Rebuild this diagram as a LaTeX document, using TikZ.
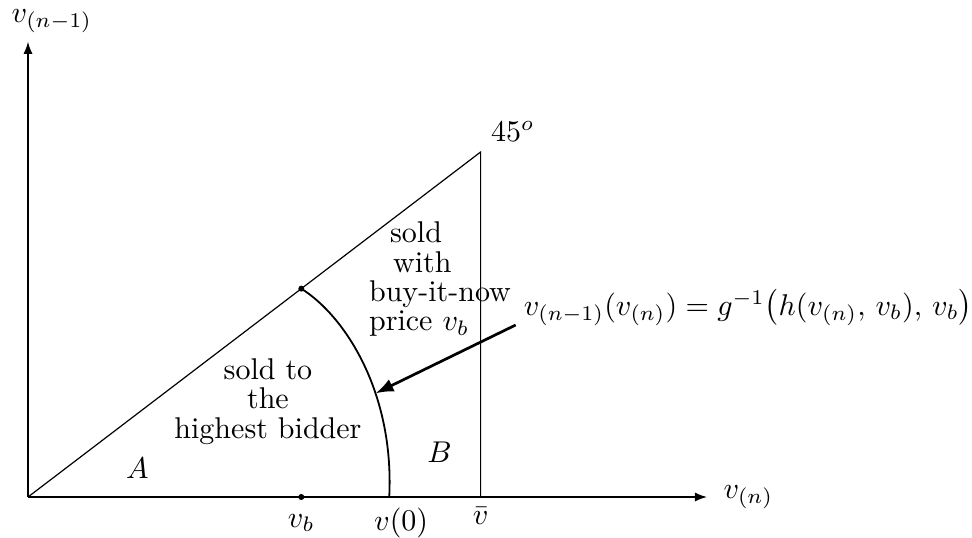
\documentclass[tikz,border=0pt]{standalone}
\usepackage{amsmath, amssymb}
\usepackage{tikz}
\usetikzlibrary{arrows.meta, positioning, calc}

\tikzset{
  axisline/.style={-{Latex[length=4pt,width=3pt]}, line width=0.4pt},
  dotmark/.style={circle, fill, inner sep=0pt, minimum size=2pt},
  regiontext/.style={font=\fontsize{10}{9.8}\selectfont, align=center},
  pointer/.style={-{Latex[length=6pt,width=4.5pt]}, line width=0.9pt},
}

\begin{document}
\begin{tikzpicture}
  \useasboundingbox (-0.328,-0.480) rectangle (11.054,5.820);
  % axes
  \coordinate (O) at (0,0);
  \coordinate (xend) at (7.95,0);
  \coordinate (yend) at (0,5.33);
  \draw[axisline] (O) -- (xend);
  \draw[axisline] (O) -- (yend);
  \node (ylab) at (0.28,5.57) {$v_{(n-1)}$};
  \node[right=2pt of xend] (xlab) {$v_{(n)}$};
  % 45 degree line and upper bound
  \coordinate (D) at (5.30,4.04);
  \coordinate (vbar) at (5.30,0);
  \draw (O) -- (D) -- (vbar);
  \node[above right=0pt of D] (deg) {$45^o$};
  % buy-it-now price
  \node[dotmark] (vbdot) at (3.20,0) {};
  \node[dotmark] (diagdot) at (3.20,2.44) {};
  \coordinate (v0) at (4.23,0);
  \draw[line width=0.6pt] (diagdot.center) .. controls (3.71,2.12) and (4.29,1.23) .. coordinate[pos=0.63] (tip) (v0);
  % axis labels
  \node[below=1pt of vbdot] (vblab) {$v_b$};
  \node[below] (v0lab) at (4.37,0) {$v(0)$};
  \node[below] (vbarlab) at (vbar) {$\bar{v}$};
  % regions
  \node (lA) at (1.28,0.34) {$A$};
  \node (lB) at (4.82,0.53) {$B$};
  \node[regiontext] (soldhigh) at (2.81,1.12) {sold to\\the\\highest bidder};
  \node[regiontext, align=left, anchor=west] (soldbin) at (3.87,2.55)
    {\hspace*{7pt}sold\\\hspace*{8pt}with\\buy-it-now\\price $v_b$};
  % boundary curve
  \node[anchor=base west, inner xsep=0pt] (rule) at (5.80,2.131) {$v_{(n-1)}(v_{(n)}) = g^{-1}\big(h(v_{(n)},\, v_b),\, v_b\big)$};
  \coordinate (ptr) at (5.71,2.014);
  \draw[pointer] (ptr) -- (tip);
\end{tikzpicture}
\end{document}
